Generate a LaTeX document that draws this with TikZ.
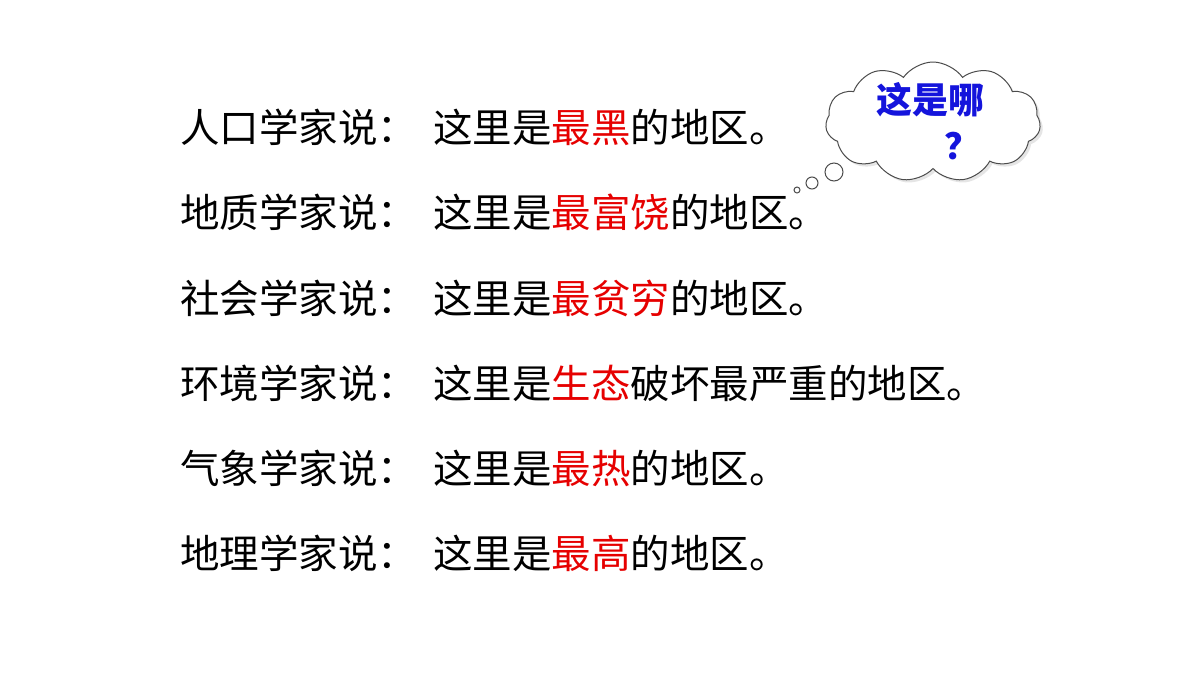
\documentclass[tikz,border=0pt]{standalone}
\usepackage{fontspec}
\setmainfont{Noto Sans CJK SC}
\usetikzlibrary{shapes.symbols,shadows}
\definecolor{myred}{RGB}{230,0,0}
\definecolor{myblue}{RGB}{20,20,220}
\tikzset{x=1pt,y=-1pt,
 row/.style={anchor=west,inner sep=0pt,font=\fontsize{39.5}{42}\selectfont},
 puff/.style={draw=black!70,fill=white,line width=1pt}}
\newcommand{\hl}[1]{\textcolor{myred}{#1}}
\begin{document}
\begin{tikzpicture}
\useasboundingbox (0,0) rectangle (1200,675);
\fill[white] (0,0) rectangle (1200,675);
\foreach \y/\a/\b [count=\i] in {127/人口学家说：/这里是\hl{最黑}的地区。,
 212/地质学家说：/这里是\hl{最富饶}的地区。,
 298/社会学家说：/这里是\hl{最贫穷}的地区。,
 383/环境学家说：/这里是\hl{生态}破坏最严重的地区。,
 468/气象学家说：/这里是\hl{最热}的地区。,
 553/地理学家说：/这里是\hl{最高}的地区。}{
 \node[row] (l\i) at (180,\y) {\a};
 \node[row] (r\i) at (433,\y) {\b};
}
\node[cloud,cloud puffs=11,cloud puff arc=110,aspect=1.8,minimum width=215,minimum height=120,puff,drop shadow={opacity=0.2}] (cl) at (933,122) {};
\node[puff,circle,minimum size=18,inner sep=0] (b3) at (834,172) {};
\node[puff,circle,minimum size=12,inner sep=0] (b2) at (812,183) {};
\node[puff,circle,minimum size=6,inner sep=0] (b1) at (797,190) {};
\node[inner sep=0,font=\fontsize{36}{38}\selectfont\bfseries,text=myblue] (t1) at (930,100) {这是哪};
\node[inner sep=0,font=\fontsize{36}{38}\selectfont\bfseries,text=myblue] (t2) at (962,146) {？};
\end{tikzpicture}
\end{document}
